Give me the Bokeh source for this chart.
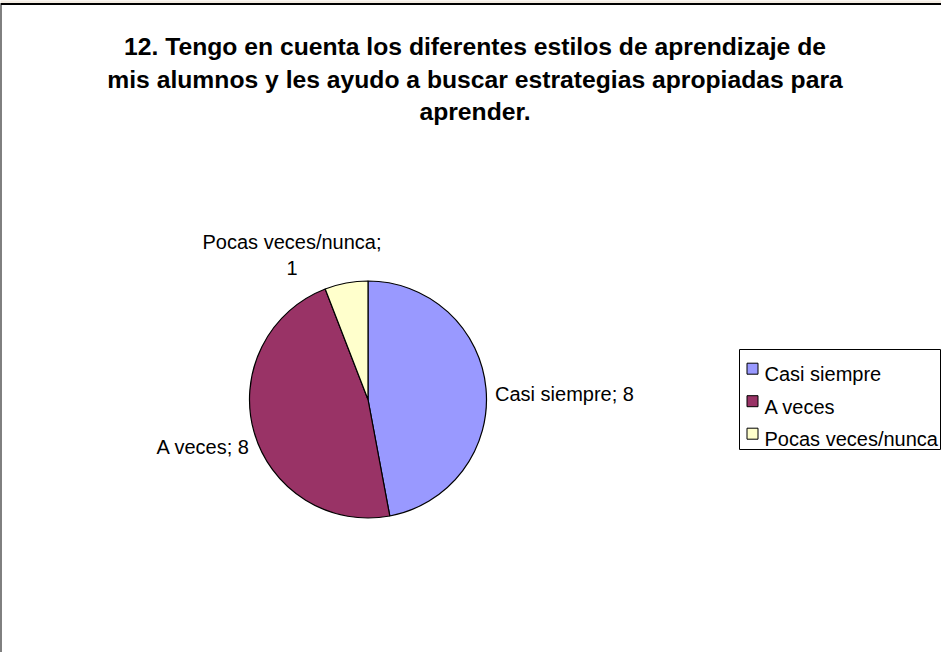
import math
from bokeh.plotting import figure
from bokeh.models import Range1d, ColumnDataSource
from bokeh.core.properties import value
from bokeh.embed import file_html
from bokeh.resources import INLINE

# ---- data ----
categories = ["Casi siempre", "A veces", "Pocas veces/nunca"]
counts = [8, 8, 1]
colors = ["#9999FF", "#993366", "#FFFFCC"]
title_lines = [
    "12. Tengo en cuenta los diferentes estilos de aprendizaje de",
    "mis alumnos y les ayudo a buscar estrategias apropiadas para",
    "aprender.",
]

W, H = 941, 652
def X(sx):
    return sx - 8
def Y(sy):
    return 660 - sy

p = figure(width=W, height=H, output_backend="svg", toolbar_location=None,
           x_range=Range1d(0, W), y_range=Range1d(0, H), min_border=0,
           outline_line_color=None, background_fill_color="white",
           border_fill_color="white")
p.axis.visible = False
p.grid.visible = False

FONT = value("Liberation Sans")
BG = "#F3ECE2"

# beige strip above the frame and frame border
p.quad(left=[X(0)], right=[X(949)], bottom=[Y(11)], top=[Y(0)], fill_color=BG, line_color=None)
p.line(x=[X(8), X(8), X(949)], y=[Y(660), Y(11.5), Y(11.5)], line_color="black", line_width=2)

# title
for i, t in enumerate(title_lines):
    p.text(x=[X(482.5)], y=[Y(54 + 32.6 * i)], text=[t], text_font=FONT, text_font_size="24.7px",
           text_font_style="bold", text_align="center", text_baseline="alphabetic", text_color="black")

# pie
total = sum(counts)
cx, cy, r = X(375.5), Y(407), 118.5
starts, ends, cum = [], [], 0
for c in counts:
    starts.append(math.pi / 2 - 2 * math.pi * cum / total)
    cum += c
    ends.append(math.pi / 2 - 2 * math.pi * cum / total)
src = ColumnDataSource(dict(start=starts, end=ends, color=colors))
p.wedge(x=cx, y=cy, radius=r, radius_units="screen", start_angle="start", end_angle="end",
        direction="clock", fill_color="color", line_color="black", line_width=1.2, source=src)

# data labels
lab = [f"{c}; {v}" for c, v in zip(categories, counts)]
p.text(x=[X(502.5)], y=[Y(401.7)], text=[lab[0]], text_font=FONT, text_font_size="20px",
       text_align="left", text_baseline="alphabetic", text_color="black")
p.text(x=[X(257.5)], y=[Y(454)], text=[lab[1]], text_font=FONT, text_font_size="20px",
       text_align="right", text_baseline="alphabetic", text_color="black")
p.text(x=[X(299.5), X(299.5)], y=[Y(249.3), Y(275)], text=[f"{categories[2]};", f"{counts[2]}"],
       text_font=FONT, text_font_size="20px", text_align="center", text_baseline="alphabetic",
       text_color="black")

# legend
p.quad(left=[X(747)], right=[X(948)], bottom=[Y(457)], top=[Y(357)], fill_color="white",
       line_color="black", line_width=1)
for i, (c, col) in enumerate(zip(categories, colors)):
    by = 381.7 + 32.5 * i
    p.rect(x=[X(760)], y=[Y(by - 5.5)], width=11, height=11, width_units="screen",
           height_units="screen", fill_color=col, line_color="black", line_width=1)
    p.text(x=[X(772)], y=[Y(by)], text=[c], text_font=FONT, text_font_size="20px",
           text_align="left", text_baseline="alphabetic", text_color="black")

open("out.html", "w").write(file_html(p, INLINE))
